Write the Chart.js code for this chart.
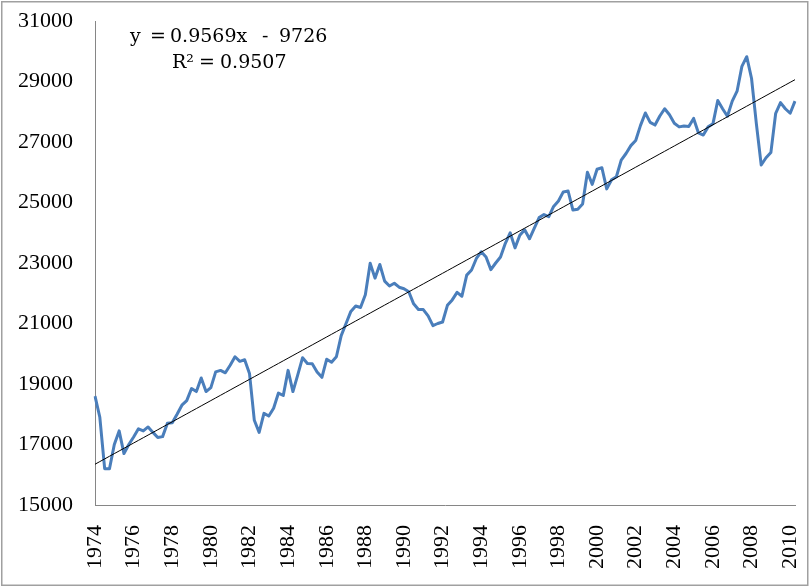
<!DOCTYPE html>
<html><head><meta charset="utf-8">
<script src="https://cdn.jsdelivr.net/npm/chart.js@4.4.0/dist/chart.umd.min.js"></script>
<style>html,body{margin:0;padding:0;background:#fff}#wrap{width:810px;height:588px;position:relative}</style>
</head><body><div id="wrap"><canvas id="c" width="810" height="588"></canvas></div>
<script>
// ---- data ----
const startYear = 1974;
const values = [
18600,17900,16200,16200,17000,17450,16700,17000,
17250,17520,17450,17580,17400,17230,17260,17700,
17720,18000,18300,18450,18850,18750,19200,18750,
18880,19400,19450,19370,19620,19900,19750,19800,
19350,17800,17400,18030,17940,18200,18700,18620,
19450,18750,19300,19870,19680,19670,19400,19220,
19820,19720,19900,20600,21000,21400,21580,21530,
21950,22990,22500,22950,22400,22240,22330,22200,
22150,22050,21650,21460,21460,21250,20930,21000,
21050,21600,21780,22030,21900,22600,22770,23150,
23370,23200,22780,23000,23200,23650,24000,23500,
23920,24100,23800,24150,24500,24600,24530,24870,
25050,25350,25380,24750,24780,24950,26000,25600,
26100,26150,25450,25750,25850,26400,26620,26880,
27050,27550,27960,27650,27560,27860,28100,27900,
27620,27500,27530,27510,27780,27300,27230,27500,
27600,28370,28100,27850,28350,28680,29500,29820,
29100,27600,26240,26480,26650,27950,28300,28100,
27950,28350
];
const labeledYears = [1974,1976,1978,1980,1982,1984,1986,1988,1990,1992,1994,1996,1998,2000,2002,2004,2006,2008,2010];
const yTicks = [15000,17000,19000,21000,23000,25000,27000,29000,31000];
const equationText = "y = 0.9569x - 9726";
const r2Text = "R\u00B2 = 0.9507";

// ---- derived ----
const categories = values.map((v,i)=> (startYear + Math.floor(i/4)) + 'Q' + (i%4+1));
// least squares linear trend over category index
const n = values.length;
let sx=0, sy=0, sxx=0, sxy=0;
values.forEach((v,i)=>{sx+=i; sy+=v; sxx+=i*i; sxy+=i*v;});
const slope = (n*sxy - sx*sy)/(n*sxx - sx*sx);
const intercept = (sy - slope*sx)/n;
const trend = values.map((v,i)=> intercept + slope*i);

const frame = {
  id:'frame',
  beforeDraw(chart){
    const c = chart.ctx;
    c.save(); c.fillStyle='#fff'; c.fillRect(0,0,chart.width,chart.height); c.restore();
  },
  afterDraw(chart){
    const c = chart.ctx;
    c.save();
    c.strokeStyle='#a0a0a0'; c.lineWidth=1.5;
    c.strokeRect(1.75,1.75,chart.width-4,chart.height-4.5);
    // trendline label
    c.fillStyle='#000';
    c.font='19px "DejaVu Serif"';
    c.textBaseline='alphabetic';
    const parts1 = equationText.split(' ');
    const xs1 = [130,150,170,262,279];
    parts1.forEach((p,k)=> c.fillText(p, xs1[k], 42));
    const parts2 = r2Text.split(' ');
    const xs2 = [172,199,220];
    parts2.forEach((p,k)=> c.fillText(p, xs2[k], 68));
    c.restore();
  }
};

new Chart(document.getElementById('c'), {
  type:'line',
  data:{
    labels: categories,
    datasets:[
      {data: trend, borderColor:'#000', borderWidth:1, pointRadius:0, tension:0, fill:false},
      {data: values, borderColor:'#4A7EBB', borderWidth:3, pointRadius:0, tension:0, fill:false, borderJoinStyle:'round'}
    ]
  },
  options:{
    responsive:false, animation:false, devicePixelRatio:1,
    layout:{padding:{left:0,right:15,top:21,bottom:0}},
    plugins:{legend:{display:false}, tooltip:{enabled:false}},
    scales:{
      x:{
        type:'category', offset:false,
        grid:{display:false, drawTicks:false},
        border:{display:true, color:'#868686', width:1},
        ticks:{
          autoSkip:false, minRotation:90, maxRotation:90, padding:20,
          color:'#000', font:{family:'"Liberation Serif"', size:22},
          callback:function(val, idx){
            const lab = categories[idx];
            const yr = parseInt(lab.slice(0,4)); const q = lab.slice(5);
            return (q==='1' && labeledYears.includes(yr)) ? String(yr) : '';
          }
        },
        afterFit(s){ s.height = 83; s.paddingLeft = 0; s.paddingRight = 0; }
      },
      y:{
        min:15000, max:31000,
        grid:{display:false, drawTicks:false},
        border:{display:true, color:'#868686', width:1},
        afterBuildTicks(s){ s.ticks = yTicks.map(v=>({value:v})); },
        ticks:{ padding:22, color:'#000', font:{family:'"Liberation Serif"', size:22}, callback:(v)=>String(v) },
        afterFit(s){ s.width = 95; s.paddingTop = 0; s.paddingBottom = 0; }
      }
    }
  },
  plugins:[frame]
});
</script></body></html>
